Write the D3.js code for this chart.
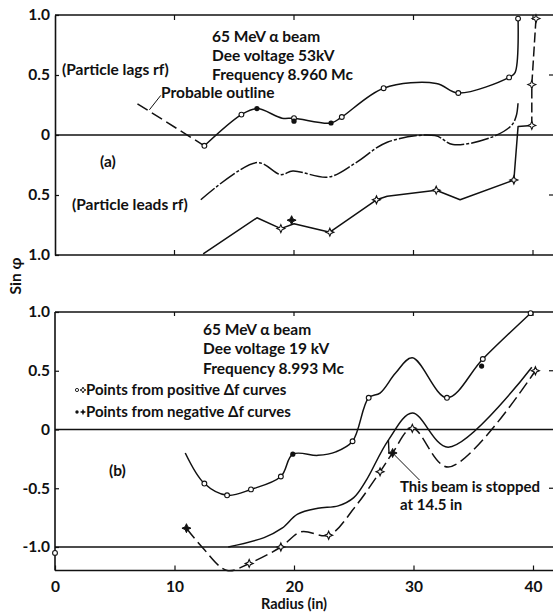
<!DOCTYPE html>
<html><head><meta charset="utf-8">
<script src="https://cdn.jsdelivr.net/npm/d3@7"></script>
<style>
body{margin:0;background:#fff}
svg{display:block}
text{font-family:Lato,'DejaVu Sans',sans-serif;font-weight:700;fill:#111}
</style>
</head><body>
<svg id="c" width="553" height="613"></svg>
<script>
// ---------- DATA ----------
// x ticks (radius, in)
const xTicks = [0, 10, 20, 30, 40];
const xTickLabels = ["0", "10", "20", "30", "40"];
// panel (a) y ticks
const aTicks = [1, 0.5, 0, -0.5, -1];
const aTickLabels = ["1.0", "0.5", "0", "0.5", "1.0"];
// panel (b) y ticks
const bTicks = [1, 0.5, 0, -0.5, -1];
const bTickLabels = ["1.0", "0.5", "0", "-0.5", "-1.0"];

// Panel (a): 65 MeV alpha, 53 kV, 8.960 Mc
const aOutline = [[6.9, 0.26], [12.5, -0.09]];                       // probable outline (dashed)
const aLags = [[12.5, -0.09], [15.6, 0.17], [16.9, 0.22], [19.0, 0.14], [20.0, 0.14], [23.1, 0.10],
  [24.0, 0.15], [27.5, 0.39], [31.9, 0.43], [33.75, 0.35], [38.0, 0.48], [38.5, 0.52], [38.75, 0.97]];
const aLagsOpen = [[12.5, -0.09], [15.6, 0.17], [20.0, 0.14], [24.0, 0.15], [27.5, 0.39], [33.75, 0.35], [38.0, 0.48], [38.75, 0.97]];
const aLagsFilled = [[16.9, 0.22], [23.1, 0.10], [20.0, 0.115]];
const aRight = [[40.25, 0.97], [39.9, 0.42], [39.9, 0.08]];          // dashed right edge
const aLeads = [[12.2, -0.54], [16.9, -0.23], [18.9, -0.33], [19.9, -0.30], [22.9, -0.35], [25.2, -0.23],
  [27.8, -0.06], [31.8, -0.005], [33.3, -0.08], [36.5, -0.02], [38.2, 0.08], [38.6, 0.16], [38.75, 0.27]];
const aBottom = [[12.4, -0.99], [16.9, -0.69], [18.9, -0.78], [20.0, -0.74], [23.0, -0.81], [26.9, -0.54],
  [27.8, -0.51], [31.9, -0.46], [33.9, -0.54], [38.4, -0.375], [38.75, 0.07], [39.9, 0.08]];
const aBottomOpen = [[18.9, -0.78], [23.0, -0.81], [26.9, -0.54], [31.9, -0.46], [38.4, -0.375], [39.9, 0.08], [39.9, 0.42], [40.25, 0.97]];
const aBottomFilled = [[19.8, -0.71]];

// Panel (b): 65 MeV alpha, 19 kV, 8.993 Mc
const bTop = [[10.9, -0.20], [12.5, -0.46], [14.4, -0.56], [16.4, -0.51], [18.9, -0.40], [19.9, -0.21],
  [22.0, -0.22], [23.5, -0.19], [24.9, -0.10], [26.25, 0.27], [27.2, 0.31], [28.5, 0.48], [29.9, 0.61],
  [32.8, 0.27], [35.8, 0.60], [39.8, 0.99]];
const bTopOpen = [[12.5, -0.46], [14.4, -0.56], [16.4, -0.51], [18.9, -0.40], [24.9, -0.10], [26.25, 0.27], [32.8, 0.27], [35.8, 0.60], [39.8, 0.99], [0, -1.05]];
const bTopFilled = [[19.9, -0.21], [35.7, 0.54]];
const bMid = [[14.5, -1.0], [17.5, -0.92], [19.0, -0.84], [20.3, -0.72], [22.0, -0.67], [23.7, -0.65],
  [25.0, -0.58], [26.0, -0.44], [27.9, -0.09], [29.9, 0.14], [32.9, -0.15], [39.9, 0.53]];
const bDash = [[11.0, -0.84], [12.3, -1.0], [14.4, -1.2], [16.25, -1.14], [18.9, -1.0], [20.6, -0.87],
  [22.9, -0.90], [25.1, -0.66], [27.2, -0.36], [28.25, -0.2], [29.9, 0.01], [32.9, -0.32], [40.2, 0.50]];
const bDashOpen = [[16.25, -1.14], [18.9, -1.0], [22.9, -0.90], [27.2, -0.36], [29.9, 0.01], [40.2, 0.50]];
const bDashFilled = [[11.0, -0.84], [28.25, -0.2]];
const bStop = [[28.25, -0.2]];

// ---------- DRAW ----------
const svg = d3.select("#c");
const x = d3.scaleLinear().domain([0, 40]).range([55, 533]);
const ya = d3.scaleLinear().domain([-1, 1]).range([255, 15]);
const yb = d3.scaleLinear().domain([-1.2, 1]).range([570.5, 312]);
const RIGHT = 553;

function frameLine(x1, y1, x2, y2, w) {
  svg.append("line").attr("x1", x1).attr("y1", y1).attr("x2", x2).attr("y2", y2)
    .attr("stroke", "#111").attr("stroke-width", w || 1.6);
}

// panel a frame
frameLine(x(0), ya(1), RIGHT, ya(1));
frameLine(x(0), ya(-1), RIGHT, ya(-1));
frameLine(x(0), ya(0), RIGHT, ya(0), 1.4);
// panel b frame
frameLine(x(0), yb(1), RIGHT, yb(1));
frameLine(x(0), yb(-1.2), RIGHT, yb(-1.2));
frameLine(x(0), yb(0), RIGHT, yb(0), 1.4);
frameLine(x(0), yb(-1), RIGHT, yb(-1), 1.4);

// y axes
const axA = d3.axisLeft(ya).tickValues(aTicks).tickSizeInner(-4).tickSizeOuter(0).tickPadding(5)
  .tickFormat((d, i) => aTickLabels[i]);
const gA = svg.append("g").attr("transform", `translate(${x(0)},0)`).call(axA);
const axB = d3.axisLeft(yb).tickValues(bTicks).tickSizeInner(-4).tickSizeOuter(0).tickPadding(5)
  .tickFormat((d, i) => bTickLabels[i]);
const gB = svg.append("g").attr("transform", `translate(${x(0)},0)`).call(axB);
gB.select(".domain").attr("d", `M0,${yb(1)}V${yb(-1.2)}`);
[gA, gB].forEach(g => {
  g.select(".domain").attr("stroke", "#111").attr("stroke-width", 1.6);
  g.selectAll(".tick line").attr("stroke", "#111").attr("stroke-width", 1.2);
  g.selectAll(".tick text").attr("font-size", 15.5).attr("fill", "#111")
    .attr("font-family", "Lato, 'DejaVu Sans', sans-serif").attr("font-weight", 700);
});
// right-edge tick marks
[0.5, -0.5].forEach(v => frameLine(RIGHT - 4, ya(v), RIGHT, ya(v), 1.2));
[0.5, -0.5].forEach(v => frameLine(RIGHT - 4, yb(v), RIGHT, yb(v), 1.2));

// x axis (bottom of panel b)
const axX = d3.axisBottom(x).tickValues(xTicks).tickSizeInner(-5).tickSizeOuter(0).tickPadding(10)
  .tickFormat((d, i) => xTickLabels[i]);
const gX = svg.append("g").attr("transform", `translate(0,${yb(-1.2)})`).call(axX);
gX.select(".domain").remove();
gX.selectAll(".tick line").attr("stroke", "#111").attr("stroke-width", 1.2);
gX.selectAll(".tick text").attr("font-size", 15.5).attr("fill", "#111")
  .attr("font-family", "Lato, 'DejaVu Sans', sans-serif").attr("font-weight", 700);
// x ticks on panel a top and bottom
xTicks.slice(1).forEach(v => {
  frameLine(x(v), ya(1), x(v), ya(1) + 5, 1.2);
  frameLine(x(v), ya(-1), x(v), ya(-1) - 5, 1.2);
  frameLine(x(v), yb(1), x(v), yb(1) + 4, 1.2);
});

// axis titles
svg.append("text").attr("x", x(20)).attr("y", 609).attr("text-anchor", "middle")
  .attr("font-size", 14.5).text("Radius (in)");
svg.append("text").attr("transform", "translate(21,276) rotate(-90)").attr("text-anchor", "middle")
  .attr("font-size", 15.5).text("Sin φ");

// curves
function curve(data, y, dash, crv) {
  svg.append("path").datum(data)
    .attr("d", d3.line().x(d => x(d[0])).y(d => y(d[1])).curve(crv || d3.curveLinear))
    .attr("fill", "none").attr("stroke", "#111").attr("stroke-width", 1.5)
    .attr("stroke-dasharray", dash || null).attr("stroke-linejoin", "round");
}
curve(aOutline, ya, "12,5");
curve(aLags, ya, null, d3.curveCatmullRom.alpha(0.5));
curve(aRight, ya, "10,4");
curve(aLeads, ya, "18,2,3,2", d3.curveCatmullRom.alpha(0.5));
curve(aBottom, ya, null, d3.curveLinear);

curve(bTop, yb, null, d3.curveCatmullRom.alpha(0.5));
curve(bMid, yb, null, d3.curveCatmullRom.alpha(0.5));
curve(bDash, yb, "13,5", d3.curveCatmullRom.alpha(0.5));

// markers
const star4 = s => `M0,${-s}L${s*0.3},${-s*0.3}L${s},0L${s*0.3},${s*0.3}L0,${s}L${-s*0.3},${s*0.3}L${-s},0L${-s*0.3},${-s*0.3}Z`;
function openCircles(data, y) {
  svg.append("g").selectAll("circle").data(data).join("circle")
    .attr("cx", d => x(d[0])).attr("cy", d => y(d[1])).attr("r", 2.4)
    .attr("fill", "#fff").attr("stroke", "#111").attr("stroke-width", 1.1);
}
function filledDots(data, y) {
  svg.append("g").selectAll("circle").data(data).join("circle")
    .attr("cx", d => x(d[0])).attr("cy", d => y(d[1])).attr("r", 2.6).attr("fill", "#111");
}
function openStars(data, y) {
  svg.append("g").selectAll("path").data(data).join("path")
    .attr("transform", d => `translate(${x(d[0])},${y(d[1])})`).attr("d", star4(4))
    .attr("fill", "#fff").attr("stroke", "#111").attr("stroke-width", 1.1);
}
function filledStars(data, y) {
  svg.append("g").selectAll("path").data(data).join("path")
    .attr("transform", d => `translate(${x(d[0])},${y(d[1])})`).attr("d", star4(4.5))
    .attr("fill", "#111").attr("stroke", "#111").attr("stroke-width", 1);
}
openCircles(aLagsOpen, ya);
filledDots(aLagsFilled, ya);
openStars(aBottomOpen, ya);
filledStars(aBottomFilled, ya);
openCircles(bTopOpen, yb);
filledDots(bTopFilled, yb);
openStars(bDashOpen, yb);
filledStars(bDashFilled, yb);

// annotation leader: probable outline
svg.append("line").attr("x1", x(8.85)).attr("y1", ya(0.33)).attr("x2", x(7.9)).attr("y2", ya(0.21))
  .attr("stroke", "#111").attr("stroke-width", 1);
// stopped beam leader
svg.append("line").attr("x1", x(bStop[0][0])).attr("y1", yb(bStop[0][1]))
  .attr("x2", x(30.5)).attr("y2", yb(-0.43)).attr("stroke", "#111").attr("stroke-width", 1);
svg.append("line").attr("x1", x(27.9)).attr("y1", yb(-0.09)).attr("x2", x(27.95)).attr("y2", yb(-0.2))
  .attr("stroke", "#111").attr("stroke-width", 1.4);

// texts
function txt(t, tx, ty, fs, anchor) {
  svg.append("text").attr("x", tx).attr("y", ty).attr("font-size", fs || 15.5)
    .attr("text-anchor", anchor || "start").text(t);
}
txt("65 MeV α  beam", 212, 42);
txt("Dee voltage  53kV", 212, 61);
txt("Frequency 8.960 Mc", 212, 80);
txt("(Particle lags rf)", 62, 75);
txt("Probable outline", 161, 98);
txt("(a)", 100, 167);
txt("(Particle leads rf)", 72, 210);

txt("65 MeV α  beam", 203, 335);
txt("Dee voltage 19 kV", 203, 354);
txt("Frequency 8.993  Mc", 203, 374);
txt("Points from  positive Δf curves", 86, 395, 15);
txt("Points from  negative Δf curves", 86, 417, 15);
txt("(b)", 109, 476);
txt("This beam is stopped", 400, 492, 15);
txt("at 14.5 in", 400, 510, 15);

// legend symbols
svg.append("circle").attr("cx", 77).attr("cy", 390).attr("r", 1.6).attr("fill", "#fff").attr("stroke", "#111").attr("stroke-width", 0.9);
svg.append("path").attr("transform", "translate(83,390)").attr("d", star4(3)).attr("fill", "#fff").attr("stroke", "#111").attr("stroke-width", 0.9);
svg.append("circle").attr("cx", 77).attr("cy", 412).attr("r", 1.7).attr("fill", "#111");
svg.append("path").attr("transform", "translate(83,412)").attr("d", star4(3.2)).attr("fill", "#111");
</script>
</body></html>
